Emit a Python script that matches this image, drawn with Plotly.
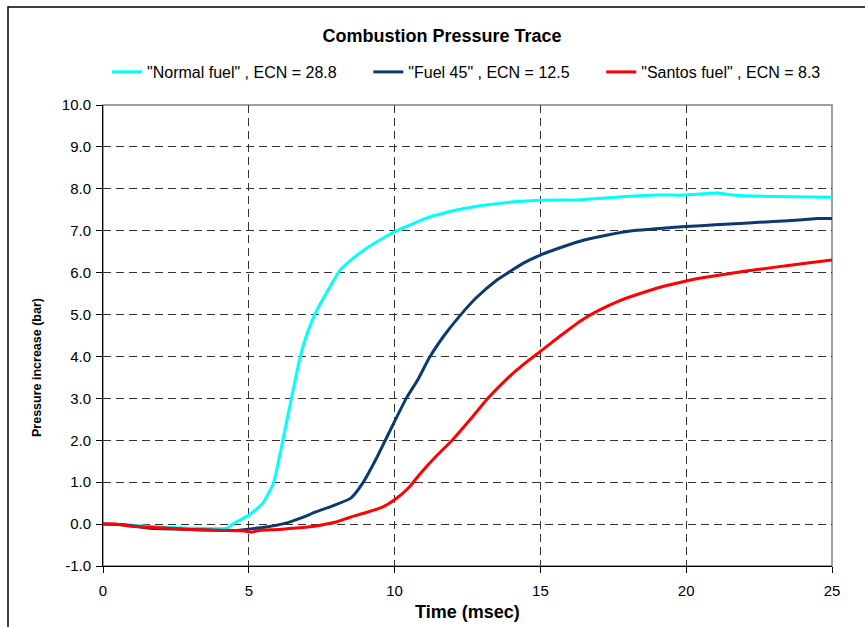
import plotly.graph_objects as go

# ---- data: pressure increase (bar) vs time (msec) ----
normal_t = [0, 1, 2, 3, 3.4, 4.25, 4.45, 5.04, 5.48, 5.84, 6.05, 6.3, 6.55, 6.75, 7.0,
            7.33, 7.78, 8.13, 8.5, 8.93, 9.45, 9.98, 10.6, 11.22, 11.8, 12.36, 13.2,
            14.08, 15, 16.4, 17.85, 19.0, 19.9, 20.6, 21.08, 21.5, 22.2, 23.6, 25]
normal_p = [0, -0.03, -0.07, -0.1, -0.1, -0.1, 0.0, 0.23, 0.5, 0.97, 1.6, 2.45, 3.3,
            3.95, 4.55, 5.1, 5.66, 6.06, 6.3, 6.53, 6.76, 6.97, 7.16, 7.33, 7.44, 7.53,
            7.62, 7.69, 7.73, 7.74, 7.81, 7.85, 7.85, 7.88, 7.9, 7.86, 7.83, 7.81, 7.8]

fuel45_t = [0, 0.8, 1.6, 2.5, 3.5, 4.5, 5.0, 5.6, 6.2, 6.8, 7.3, 7.9, 8.5, 8.9, 9.4,
            9.85, 10.4, 10.8, 11.2, 11.7, 12.25, 12.8, 13.5, 13.9, 14.4, 15, 15.7,
            16.5, 17.3, 18.3, 19.2, 20, 21, 22, 23, 24, 24.5, 25]
fuel45_p = [0, -0.02, -0.1, -0.12, -0.14, -0.15, -0.12, -0.07, 0.01, 0.15, 0.29, 0.44,
            0.62, 0.97, 1.6, 2.24, 3.0, 3.45, 3.98, 4.5, 4.98, 5.4, 5.82, 6.0, 6.22,
            6.42, 6.6, 6.78, 6.9, 7.01, 7.06, 7.1, 7.14, 7.18, 7.22, 7.26, 7.29, 7.29]

santos_t = [0, 0.4, 1, 2, 3, 4, 4.8, 5.05, 5.4, 6, 6.5, 7, 7.5, 8, 8.5, 9, 9.6, 10,
            10.5, 10.9, 11.4, 12, 12.6, 13.2, 13.8, 14.4, 15, 15.7, 16.4, 17, 17.75,
            18.5, 19.2, 20, 20.5, 21.5, 22.5, 23.5, 24.3, 25]
santos_p = [0, 0, -0.05, -0.09, -0.13, -0.15, -0.16, -0.19, -0.15, -0.13, -0.1, -0.07,
            -0.02, 0.05, 0.17, 0.27, 0.41, 0.58, 0.88, 1.22, 1.6, 2.02, 2.5, 3.0, 3.43,
            3.8, 4.12, 4.5, 4.86, 5.1, 5.34, 5.52, 5.67, 5.8, 5.87, 5.98, 6.08, 6.17,
            6.24, 6.3]

series_names = ['"Normal fuel" , ECN = 28.8', '"Fuel 45" , ECN = 12.5',
                '"Santos fuel" , ECN = 8.3']
series_colors = ["#00FFFF", "#0B3A6E", "#FF0000"]
series_data = [(normal_t, normal_p), (fuel45_t, fuel45_p), (santos_t, santos_p)]

x_ticks = [0, 5, 10, 15, 20, 25]
y_ticks = [-1.0, 0.0, 1.0, 2.0, 3.0, 4.0, 5.0, 6.0, 7.0, 8.0, 9.0, 10.0]

# ---- layout geometry ----
W, H = 865, 627
ML, MR, MT, MB = 103, 33, 105, 61
PW, PH = W - ML - MR, H - MT - MB


def px_to_paper(x, y):
    return (x - ML) / PW, (H - MB - y) / PH


FONT = "Liberation Sans, Arial, sans-serif"
PAD = "\u00a0" * 6  # extra room between legend entries

fig = go.Figure()
for i, (name, (t, p), color) in enumerate(zip(series_names, series_data, series_colors)):
    label = name + (PAD if i < len(series_names) - 1 else "")
    fig.add_trace(go.Scatter(x=t, y=p, mode="lines", name=label,
                             line=dict(color=color, width=3, shape="spline",
                                       smoothing=0.5)))

grid = dict(showgrid=True, gridcolor="#333333", griddash="8px,5px", gridwidth=1,
            zeroline=False, showline=True, linecolor="black", linewidth=1,
            ticks="outside", ticklen=6, tickcolor="black")

fig.update_xaxes(range=[0, 25], tickvals=x_ticks, ticktext=[str(v) for v in x_ticks],
                 tickfont=dict(family=FONT, size=15, color="black"),
                 ticklabelstandoff=5, **grid)
fig.update_yaxes(range=[-1, 10], tickvals=y_ticks, ticktext=[f"{v:.1f}" for v in y_ticks],
                 tickfont=dict(family=FONT, size=15, color="black"),
                 ticklabelstandoff=2, **grid)

# plot frame (grey) and outer chart border (black)
ox0, oy0 = px_to_paper(8, H + 10)
ox1, oy1 = px_to_paper(W + 10, 7)
shapes = [
    dict(type="rect", xref="paper", yref="paper", x0=0, y0=0, x1=1, y1=1,
         line=dict(color="#808080", width=1.5), layer="below"),
    dict(type="rect", xref="paper", yref="paper", x0=ox0, y0=oy0, x1=ox1, y1=oy1,
         line=dict(color="black", width=1.5)),
]

tx, ty = px_to_paper(37, 368)
ax_x, ax_y = px_to_paper(467, 612)
annotations = [
    dict(text="<b>Pressure increase (bar)</b>", xref="paper", yref="paper", x=tx, y=ty,
         textangle=-90, showarrow=False, font=dict(family=FONT, size=12.5, color="black"),
         xanchor="center", yanchor="middle"),
    dict(text="<b>Time (msec)</b>", xref="paper", yref="paper", x=ax_x, y=ax_y,
         showarrow=False, font=dict(family=FONT, size=18, color="black"),
         xanchor="center", yanchor="middle"),
]

lx, ly = px_to_paper(107, 72)
fig.update_layout(
    width=W, height=H,
    margin=dict(l=ML, r=MR, t=MT, b=MB, autoexpand=False),
    paper_bgcolor="white", plot_bgcolor="white",
    title=dict(text="<b>Combustion Pressure Trace</b>", x=442 / W, xanchor="center",
               y=1 - 36 / H, yanchor="middle",
               font=dict(family=FONT, size=18, color="black")),
    legend=dict(orientation="h", x=lx, y=ly, xanchor="left", yanchor="middle",
                font=dict(family=FONT, size=16, color="black"),
                bgcolor="rgba(0,0,0,0)", itemwidth=30, tracegroupgap=0),
    showlegend=True,
    shapes=shapes,
    annotations=annotations,
)

fig.write_html("out.html")
